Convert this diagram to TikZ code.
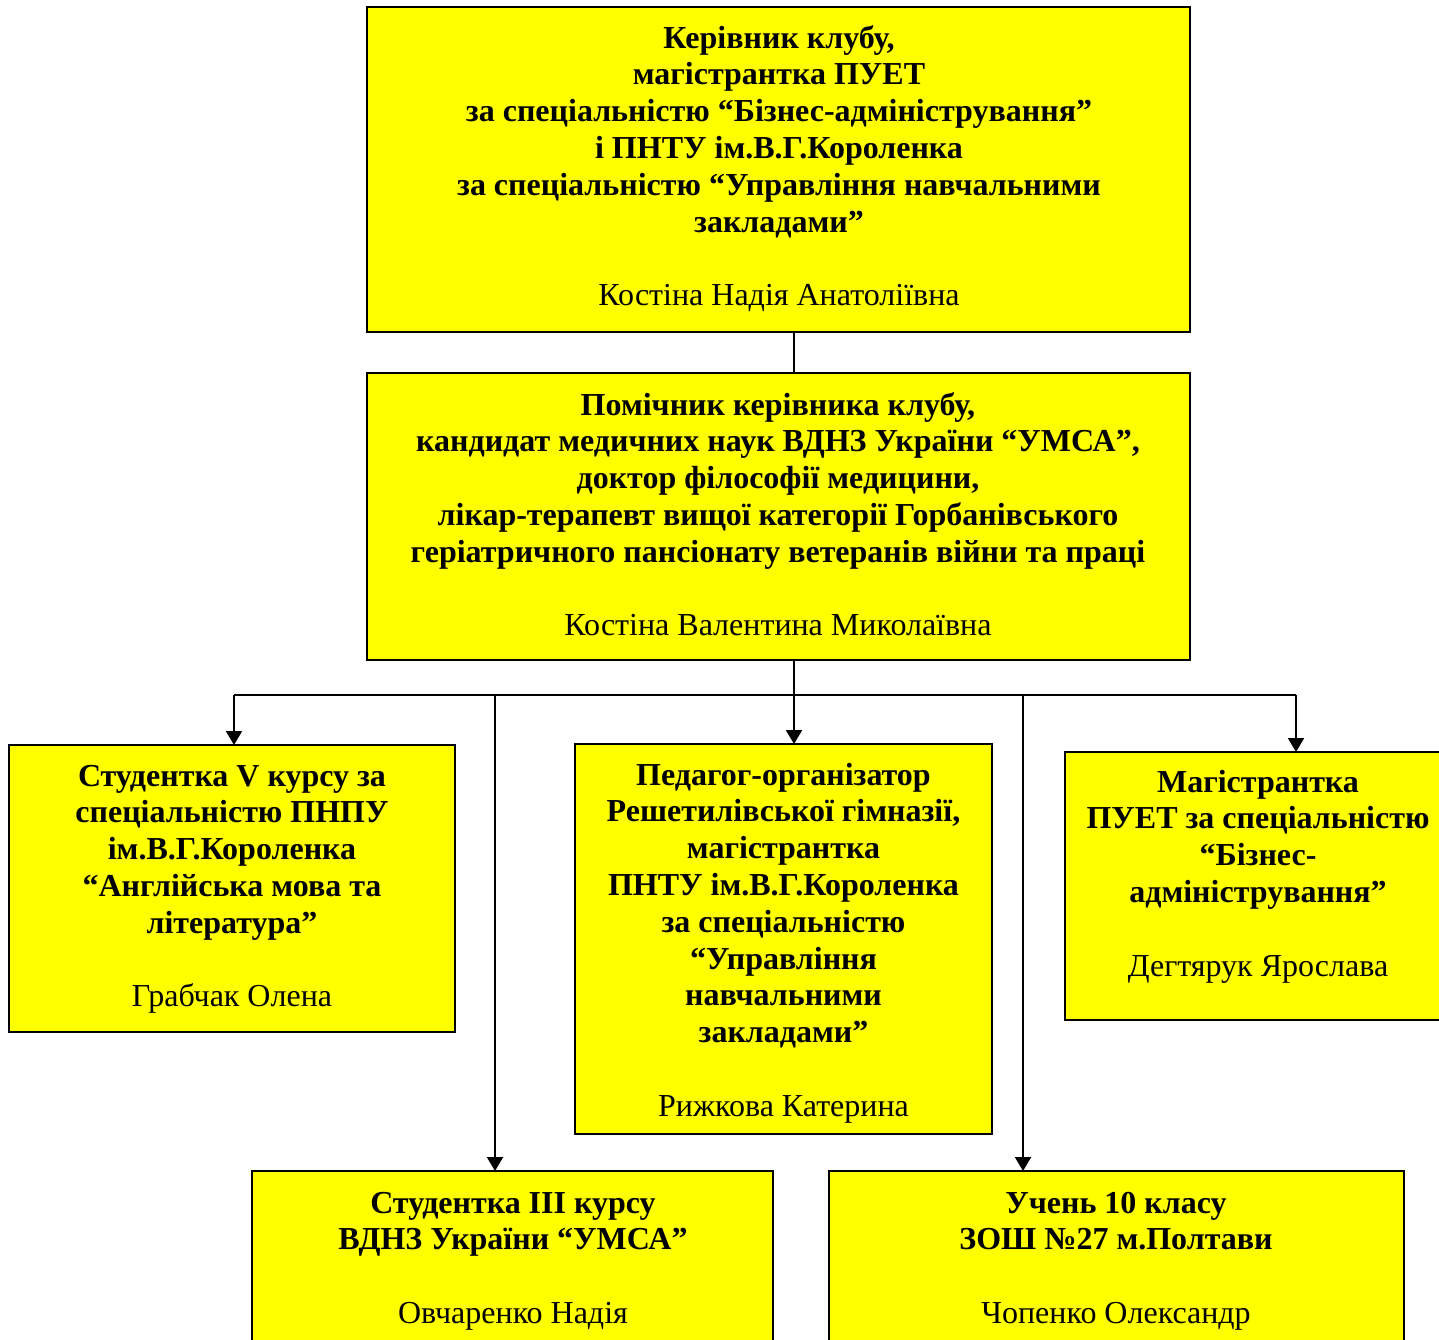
\documentclass[tikz,border=0pt]{standalone}
\usepackage{fontspec}
\setmainfont{Liberation Serif}
\usetikzlibrary{arrows.meta}
\definecolor{boxyellow}{HTML}{FFFF00}
\tikzset{
  box/.style={draw=black, fill=boxyellow, line width=2pt, inner sep=0pt, outer sep=0pt, anchor=north west},
  txt/.style={anchor=north, inner sep=0pt, align=center, font=\fontsize{32}{36.8}\selectfont\bfseries},
  conn/.style={line width=2pt, line join=miter},
  arr/.style={conn, -{Triangle[width=16pt,length=14pt]}}
}
\newcommand{\nm}[1]{{\mdseries #1}}
\begin{document}
\begin{tikzpicture}[x=1pt,y=-1pt]
\clip (0,0) rectangle (1439,1339);
\fill[white] (0,0) rectangle (1439,1339);
% boxes
\node[box, minimum width=823pt, minimum height=325pt] (n1) at (367,7) {};
\node[box, minimum width=823pt, minimum height=287pt] (n2) at (367,373) {};
\node[box, minimum width=446pt, minimum height=287pt] (lb) at (9,745) {};
\node[box, minimum width=417pt, minimum height=390pt] (mb) at (575,744) {};
\node[box, minimum width=390pt, minimum height=268pt] (rb) at (1065,752) {};
\node[box, minimum width=521pt, minimum height=190pt] (bl) at (252,1171) {};
\node[box, minimum width=575pt, minimum height=190pt] (br) at (829,1171) {};
% texts
\node[txt] (t1) at (779,22.2) {\strut Керівник клубу,\\магістрантка ПУЕТ\\за спеціальністю “Бізнес-адміністрування”\\і ПНТУ ім.В.Г.Короленка\\за спеціальністю “Управління навчальними\\закладами”\\[36.8pt]\nm{Костіна Надія Анатоліївна}};
\node[txt] (t2) at (778,389.2) {\strut Помічник керівника клубу,\\кандидат медичних наук ВДНЗ України “УМСА”,\\доктор філософії медицини,\\лікар-терапевт вищої категорії Горбанівського\\геріатричного пансіонату ветеранів війни та праці\\[36.8pt]\nm{Костіна Валентина Миколаївна}};
\node[txt] (t3) at (232,760.2) {\strut Студентка V курсу за\\спеціальністю ПНПУ\\ім.В.Г.Короленка\\“Англійська мова та\\література”\\[36.8pt]\nm{Грабчак Олена}};
\node[txt] (t4) at (783.5,759.2) {\strut Педагог-організатор\\Решетилівської гімназії,\\магістрантка\\ПНТУ ім.В.Г.Короленка\\за спеціальністю\\“Управління\\навчальними\\закладами”\\[36.8pt]\nm{Рижкова Катерина}};
\node[txt] (t5) at (1258,766.2) {\strut Магістрантка\\ПУЕТ за спеціальністю\\“Бізнес-\\адміністрування”\\[36.8pt]\nm{Дегтярук Ярослава}};
\node[txt] (t6) at (513,1187.2) {\strut Студентка ІІІ курсу\\ВДНЗ України “УМСА”\\[36.8pt]\nm{Овчаренко Надія}};
\node[txt] (t7) at (1116,1187.2) {\strut Учень 10 класу\\ЗОШ №27 м.Полтави\\[36.8pt]\nm{Чопенко Олександр}};
% connectors
\coordinate (j) at (794,695);
\coordinate (hl) at (234,695);
\coordinate (hr) at (1296,695);
\coordinate (v1) at (495,695);
\coordinate (v2) at (1023,695);
\draw[conn] (n1.south -| j) -- (n2.north -| j);
\draw[arr] (n2.south -| j) -- (mb.north -| j);
\draw[conn] (hl) -- (hr);
\draw[arr] (hl) -- (lb.north -| hl);
\draw[arr] (hr) -- (rb.north -| hr);
\draw[arr] (v1) -- (bl.north -| v1);
\draw[arr] (v2) -- (br.north -| v2);
\end{tikzpicture}
\end{document}
